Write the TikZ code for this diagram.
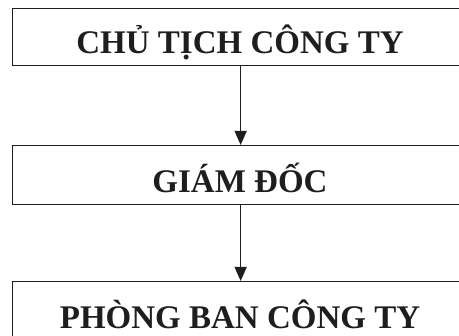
\documentclass[tikz,border=0pt]{standalone}
\usepackage{fontspec}
\setmainfont{Liberation Serif}
\usetikzlibrary{arrows.meta}
\definecolor{ink}{HTML}{1E1E1E}
\begin{document}
\begin{tikzpicture}[x=1pt,y=-1pt,
  box/.style={draw=ink,line width=1.3pt,minimum width=456pt,minimum height=#1,inner sep=0pt,anchor=north west},
  lbl/.style={text=ink,font=\bfseries\fontsize{33}{36}\selectfont,anchor=base,inner sep=0pt},
  link/.style={draw=ink,line width=1.3pt,-{Triangle[length=14pt,width=12pt]}}]
\useasboundingbox (0,0) rectangle (459,336);
\clip (0,0) rectangle (459,336);
\node[box=57pt] (b1) at (12,8) {};
\node[box=59pt] (b2) at (12,145) {};
\node[box=62pt] (b3) at (12,281) {};
\node[lbl] (t1) at (240,54) {CHỦ TỊCH CÔNG TY};
\node[lbl] (t2) at (240,193) {GIÁM ĐỐC};
\node[lbl] (t3) at (240,329) {PHÒNG BAN CÔNG TY};
\draw[link] (b1.south) -- (b2.north);
\draw[link] (b2.south) -- (b3.north);
\end{tikzpicture}
\end{document}
